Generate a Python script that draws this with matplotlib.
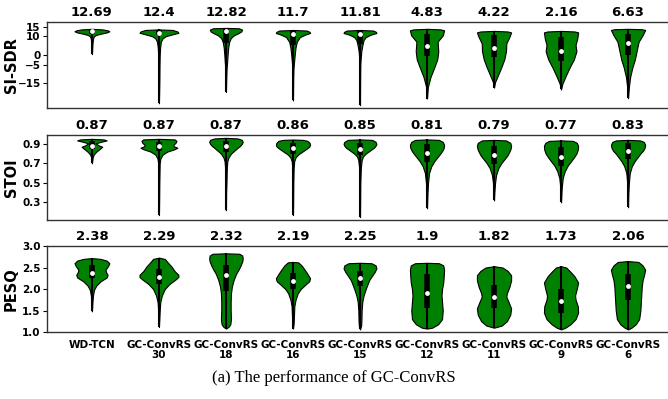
import numpy as np
import matplotlib
matplotlib.use('Agg')
import matplotlib.pyplot as plt

models = ['WD-TCN', 'GC-ConvRS\n30', 'GC-ConvRS\n18', 'GC-ConvRS\n16', 'GC-ConvRS\n15',
          'GC-ConvRS\n12', 'GC-ConvRS\n11', 'GC-ConvRS\n9', 'GC-ConvRS\n6']

# numbers printed above each violin
sdr_label = [12.69, 12.4, 12.82, 11.7, 11.81, 4.83, 4.22, 2.16, 6.63]
stoi_label = [0.87, 0.87, 0.87, 0.86, 0.85, 0.81, 0.79, 0.77, 0.83]
pesq_label = [2.38, 2.29, 2.32, 2.19, 2.25, 1.9, 1.82, 1.73, 2.06]

# inner box: median, quartiles
sdr_med = [12.7, 11.8, 12.6, 11.3, 11.3, 4.9, 4.0, 2.0, 6.6]
sdr_q1 = [11.0, 10.5, 6.5, 5.5, 6.0, -0.4, -1.2, -3.2, 0.3]
sdr_q3 = [13.2, 13.1, 13.6, 12.8, 12.8, 11.3, 10.5, 9.6, 11.3]

stoi_med = [0.876, 0.876, 0.876, 0.86, 0.85, 0.81, 0.79, 0.77, 0.83]
stoi_q1 = [0.85, 0.83, 0.82, 0.80, 0.79, 0.71, 0.69, 0.67, 0.74]
stoi_q3 = [0.93, 0.92, 0.93, 0.91, 0.91, 0.90, 0.88, 0.87, 0.91]

pesq_med = [2.38, 2.28, 2.32, 2.19, 2.25, 1.90, 1.81, 1.73, 2.06]
pesq_q1 = [2.25, 2.12, 1.95, 2.00, 2.08, 1.55, 1.55, 1.45, 1.75]
pesq_q3 = [2.55, 2.47, 2.55, 2.38, 2.42, 2.35, 2.10, 2.00, 2.35]

# violin outlines: (value, relative density)
sdr_shape = [
    [(13.9, 0), (13.6, 0.6), (13.1, 0.9), (12.6, 1.0), (12.0, 0.85), (11.3, 0.5), (10.7, 0.25),
     (10.0, 0.12), (9.0, 0.07), (7.0, 0.04), (4.0, 0.02), (0.5, 0)],
    [(13.6, 0), (13.3, 0.7), (12.5, 0.95), (11.8, 1.0), (11.0, 0.7), (10.0, 0.35), (8.8, 0.18),
     (7.0, 0.1), (4.0, 0.06), (0, 0.04), (-5, 0.03), (-15, 0.02), (-25.5, 0)],
    [(14.4, 0), (14.2, 0.8), (13.5, 1.0), (12.5, 0.95), (11.5, 0.75), (10.5, 0.5), (9.0, 0.3),
     (7.0, 0.2), (4.0, 0.14), (0, 0.1), (-4, 0.07), (-7, 0.04), (-12, 0.02), (-19.5, 0)],
    [(13.3, 0), (13.0, 0.8), (12.3, 0.97), (11.7, 1.0), (10.8, 0.7), (9.5, 0.4), (7.0, 0.22),
     (4, 0.15), (0, 0.1), (-4, 0.06), (-7, 0.03), (-12, 0.015), (-24, 0)],
    [(13.3, 0), (13.0, 0.8), (12.3, 0.97), (11.7, 1.0), (10.8, 0.65), (9.5, 0.35), (8, 0.22),
     (5, 0.14), (2, 0.08), (-2, 0.04), (-5, 0.02), (-12, 0.01), (-26.5, 0)],
    [(13.9, 0), (13.6, 0.8), (13.1, 1.0), (10.5, 0.93), (7.1, 0.62), (2.0, 0.66), (-2.3, 0.6),
     (-6.6, 0.42), (-11.7, 0.2), (-16.9, 0.05), (-23, 0)],
    [(12.8, 0), (12.5, 0.8), (12.0, 1.0), (9.6, 0.9), (6.2, 0.72), (2.0, 0.7), (-2.3, 0.6),
     (-6.6, 0.42), (-10.9, 0.22), (-14.3, 0.06), (-17.2, 0)],
    [(12.8, 0), (12.5, 0.8), (12.0, 1.0), (8.8, 0.95), (5.4, 0.85), (2.0, 0.9), (-2.3, 0.75),
     (-6.6, 0.5), (-10.9, 0.28), (-15.1, 0.08), (-18.2, 0)],
    [(13.9, 0), (13.7, 0.8), (13.3, 1.0), (10.5, 0.85), (7.1, 0.62), (2.0, 0.5), (-2.3, 0.4),
     (-6.6, 0.25), (-11.7, 0.12), (-16.9, 0.05), (-22.9, 0)],
]

stoi_shape = [
    [(0.951, 0), (0.945, 0.8), (0.935, 1.0), (0.92, 0.6), (0.905, 0.25), (0.885, 0.45), (0.87, 0.7),
     (0.85, 0.55), (0.82, 0.3), (0.79, 0.12), (0.76, 0.05), (0.70, 0)],
    [(0.951, 0), (0.945, 0.85), (0.93, 0.95), (0.91, 0.9), (0.89, 0.78), (0.875, 0.8), (0.86, 1.0),
     (0.845, 0.85), (0.82, 0.45), (0.79, 0.2), (0.75, 0.08), (0.7, 0.04), (0.5, 0.02), (0.3, 0.01),
     (0.17, 0)],
    [(0.961, 0), (0.955, 0.7), (0.94, 0.95), (0.92, 1.0), (0.90, 0.95), (0.88, 0.85), (0.86, 0.7),
     (0.83, 0.5), (0.8, 0.3), (0.76, 0.15), (0.72, 0.08), (0.65, 0.05), (0.5, 0.03), (0.4, 0.01),
     (0.22, 0)],
    [(0.944, 0), (0.94, 0.6), (0.93, 0.85), (0.91, 0.97), (0.89, 1.0), (0.87, 0.95), (0.85, 0.8),
     (0.82, 0.55), (0.79, 0.3), (0.76, 0.15), (0.72, 0.07), (0.65, 0.04), (0.5, 0.02), (0.3, 0.01),
     (0.17, 0)],
    [(0.945, 0), (0.94, 0.75), (0.92, 0.95), (0.90, 1.0), (0.88, 0.95), (0.86, 0.85), (0.83, 0.6),
     (0.80, 0.35), (0.77, 0.18), (0.73, 0.1), (0.65, 0.05), (0.5, 0.02), (0.3, 0.01), (0.15, 0)],
    [(0.945, 0), (0.94, 0.7), (0.92, 0.92), (0.89, 1.0), (0.86, 0.98), (0.83, 0.9), (0.80, 0.78),
     (0.76, 0.6), (0.72, 0.42), (0.67, 0.25), (0.6, 0.12), (0.5, 0.06), (0.4, 0.03), (0.24, 0)],
    [(0.94, 0), (0.935, 0.7), (0.91, 0.95), (0.88, 1.0), (0.85, 0.97), (0.82, 0.9), (0.78, 0.78),
     (0.74, 0.6), (0.70, 0.42), (0.65, 0.25), (0.58, 0.12), (0.5, 0.06), (0.4, 0.02), (0.32, 0)],
    [(0.935, 0), (0.93, 0.7), (0.91, 0.92), (0.88, 1.0), (0.84, 0.98), (0.80, 0.9), (0.76, 0.75),
     (0.72, 0.58), (0.68, 0.4), (0.62, 0.22), (0.55, 0.1), (0.45, 0.04), (0.30, 0)],
    [(0.94, 0), (0.935, 0.7), (0.92, 0.92), (0.89, 1.0), (0.86, 0.97), (0.83, 0.88), (0.80, 0.72),
     (0.76, 0.55), (0.72, 0.38), (0.67, 0.22), (0.6, 0.1), (0.5, 0.05), (0.4, 0.02), (0.25, 0)],
]

pesq_shape = [
    [(2.72, 0), (2.70, 0.5), (2.66, 0.85), (2.60, 1.0), (2.53, 0.92), (2.45, 0.78), (2.40, 0.8),
     (2.33, 0.9), (2.27, 0.85), (2.18, 0.5), (2.08, 0.25), (1.98, 0.12), (1.85, 0.06), (1.7, 0.03),
     (1.48, 0)],
    [(2.73, 0), (2.70, 0.3), (2.62, 0.45), (2.52, 0.65), (2.42, 0.8), (2.33, 1.0), (2.28, 1.0),
     (2.22, 0.85), (2.12, 0.55), (2.0, 0.3), (1.85, 0.15), (1.7, 0.07), (1.5, 0.04), (1.3, 0.02),
     (1.12, 0)],
    [(2.83, 0), (2.82, 0.8), (2.78, 0.97), (2.72, 1.0), (2.65, 0.98), (2.55, 0.88), (2.45, 0.75),
     (2.35, 0.6), (2.2, 0.45), (2.05, 0.35), (1.9, 0.3), (1.7, 0.28), (1.5, 0.28), (1.3, 0.3),
     (1.18, 0.26), (1.12, 0.15), (1.08, 0)],
    [(2.63, 0), (2.62, 0.3), (2.55, 0.5), (2.45, 0.68), (2.35, 0.85), (2.25, 1.0), (2.18, 0.95),
     (2.1, 0.72), (2.0, 0.45), (1.9, 0.28), (1.75, 0.15), (1.6, 0.08), (1.4, 0.06), (1.2, 0.04),
     (1.08, 0)],
    [(2.61, 0), (2.60, 0.7), (2.55, 0.95), (2.48, 1.0), (2.40, 0.9), (2.30, 0.72), (2.20, 0.55),
     (2.10, 0.45), (2.0, 0.35), (1.85, 0.22), (1.7, 0.14), (1.5, 0.1), (1.3, 0.09), (1.15, 0.07),
     (1.06, 0)],
    [(2.61, 0), (2.60, 0.7), (2.55, 0.95), (2.45, 1.0), (2.3, 0.98), (2.15, 0.95), (2.0, 0.88),
     (1.85, 0.85), (1.7, 0.88), (1.5, 0.92), (1.3, 0.88), (1.18, 0.65), (1.1, 0.3), (1.08, 0)],
    [(2.53, 0), (2.50, 0.5), (2.42, 0.8), (2.32, 1.0), (2.2, 1.0), (2.05, 0.9), (1.9, 0.75),
     (1.82, 0.72), (1.7, 0.85), (1.55, 1.0), (1.4, 0.95), (1.25, 0.75), (1.15, 0.45), (1.10, 0)],
    [(2.53, 0), (2.50, 0.3), (2.4, 0.55), (2.3, 0.78), (2.15, 1.0), (2.0, 0.92), (1.85, 0.82),
     (1.75, 0.85), (1.6, 0.98), (1.45, 1.0), (1.3, 0.85), (1.18, 0.55), (1.1, 0.25), (1.06, 0)],
    [(2.65, 0), (2.63, 0.6), (2.55, 0.85), (2.45, 1.0), (2.35, 0.95), (2.2, 0.85), (2.05, 0.8),
     (1.9, 0.78), (1.7, 0.75), (1.5, 0.72), (1.3, 0.65), (1.18, 0.45), (1.1, 0.2), (1.06, 0)],
]

sdr_width = [0.52, 0.58, 0.48, 0.51, 0.49, 0.51, 0.51, 0.51, 0.51]
stoi_width = [0.44, 0.55, 0.5, 0.51, 0.49, 0.51, 0.51, 0.51, 0.51]
pesq_width = [0.52, 0.58, 0.5, 0.51, 0.49, 0.51, 0.51, 0.51, 0.51]

pos = np.arange(len(models))


def draw(ax, shape, med, q1, q3, widths, labels, ylabel):
    stats = []
    for s, m in zip(shape, med):
        y = np.array([p[0] for p in s])
        w = np.array([p[1] for p in s])
        stats.append(dict(coords=y, vals=w, mean=m, median=m, min=y.min(), max=y.max()))
    parts = ax.violin(stats, positions=pos, widths=widths, showmeans=False,
                      showextrema=False, showmedians=False)
    for b in parts['bodies']:
        b.set_facecolor('green')
        b.set_edgecolor('black')
        b.set_linewidth(0.8)
        b.set_alpha(1)
    lo = [st['min'] for st in stats]
    hi = [st['max'] for st in stats]
    ax.vlines(pos, lo, hi, color='black', lw=1.5, zorder=3)
    ax.vlines(pos, q1, q3, color='black', lw=4, zorder=3)
    ax.scatter(pos, med, s=12, c='white', zorder=4, linewidths=0)
    for p, v in zip(pos, labels):
        ax.text(p, 1.115, str(v), transform=ax.get_xaxis_transform(), ha='center', va='center',
                fontsize=9.5, fontweight='bold')
    ax.set_xlim(-0.67, 8.66)
    ax.set_ylabel(ylabel, fontsize=10.5, fontweight='bold')
    ax.yaxis.set_label_coords(-0.045, 0.5)
    ax.tick_params(axis='x', length=0)
    ax.tick_params(axis='y', labelsize=7.5, length=3, pad=1.5)
    for t in ax.get_yticklabels():
        t.set_fontweight('bold')
    for sp in ax.spines.values():
        sp.set_color('0.2')
        sp.set_linewidth(1.0)


fig = plt.figure(figsize=(6.68, 3.99), dpi=100)
ax1 = fig.add_axes([0.0704, 0.7293, 0.936, 0.2155])
ax2 = fig.add_axes([0.0704, 0.4486, 0.936, 0.213])
ax3 = fig.add_axes([0.0704, 0.1679, 0.936, 0.2155])

ax1.set_yticks([15, 10, 0, -5, -15])
ax1.set_ylim(-28, 17.5)
ax2.set_yticks([0.3, 0.5, 0.7, 0.9])
ax2.set_ylim(0.12, 0.99)
ax3.set_yticks([1.0, 1.5, 2.0, 2.5, 3.0])
ax3.set_ylim(1.0, 3.0)

draw(ax1, sdr_shape, sdr_med, sdr_q1, sdr_q3, sdr_width, sdr_label, 'SI-SDR')
draw(ax2, stoi_shape, stoi_med, stoi_q1, stoi_q3, stoi_width, stoi_label, 'STOI')
draw(ax3, pesq_shape, pesq_med, pesq_q1, pesq_q3, pesq_width, pesq_label, 'PESQ')

ax1.set_xticks(pos)
ax1.set_xticklabels([])
ax2.set_xticks(pos)
ax2.set_xticklabels([])
ax3.set_xticks(pos)
ax3.set_xticklabels(models, fontsize=7.5, fontweight='bold', linespacing=1.0)
ax3.tick_params(axis='x', pad=6)

fig.text(0.5, 1 - 378 / 399, '(a) The performance of GC-ConvRS', ha='center', va='center',
         family='Liberation Serif', fontsize=12)

fig.savefig('out.png', dpi=100)
